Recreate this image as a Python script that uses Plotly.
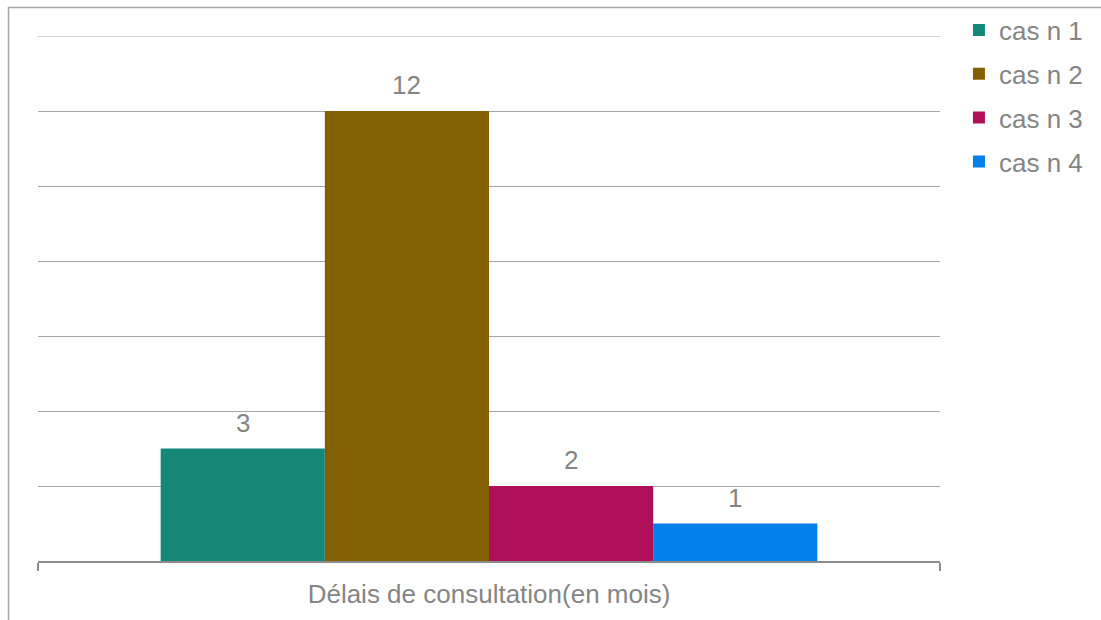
import plotly.graph_objects as go

# Consultation delay per case, in months
category = ["Délais de consultation(en mois)"]
series_names = ["cas n 1", "cas n 2", "cas n 3", "cas n 4"]
series_values = [3, 12, 2, 1]
series_colors = ["#148778", "#825f00", "#b0105a", "#0080e8"]

FONT = "Liberation Sans, Arial, sans-serif"
GREY_TEXT = "#858585"
FS = 26
Y_MAX = 14

fig = go.Figure()
for name, val, col in zip(series_names, series_values, series_colors):
    fig.add_trace(go.Bar(
        x=category, y=[val], name=name, marker_color=col,
        marker_line_width=0, legendgroup=name,
    ))

# Value labels above each bar (positions follow grouped-bar offsets)
bargap = 0.272
n = len(series_values)
group_w = 1 - bargap
bar_w = group_w / n
for i, val in enumerate(series_values):
    xc = -group_w / 2 + bar_w * (i + 0.5)
    fig.add_annotation(
        x=xc, y=val, xref="x", yref="y", text=str(val), showarrow=False,
        yanchor="bottom", yshift=9,
        font=dict(family=FONT, size=FS, color=GREY_TEXT),
    )

# Top gridline at the axis maximum
fig.add_shape(type="line", xref="paper", yref="y", x0=0, x1=1,
              y0=Y_MAX, y1=Y_MAX, line=dict(color="#a6a6a6", width=1),
              layer="below")

# Outer chart frame (right and bottom edges run off the page)
fig.add_shape(type="rect", xref="paper", yref="paper",
              x0=-0.0327, x1=1.3, y0=-0.3, y1=1.0543,
              line=dict(color="#a6a6a6", width=1.5), layer="below")

fig.update_layout(
    width=1101, height=620,
    margin=dict(l=38, r=161, t=36, b=59, autoexpand=False),
    paper_bgcolor="white", plot_bgcolor="white",
    barmode="group", bargap=bargap, bargroupgap=0,
    font=dict(family=FONT, size=FS, color=GREY_TEXT),
    showlegend=True,
    legend=dict(x=1.021, y=1.056, xanchor="left", yanchor="top",
                font=dict(family=FONT, size=FS, color=GREY_TEXT),
                tracegroupgap=7, itemwidth=30,
                bgcolor="rgba(0,0,0,0)"),
    xaxis=dict(
        type="category", range=[-0.5, 0.5], automargin=False,
        showline=True, linecolor="#8c8c8c", linewidth=2,
        ticks="outside", tickson="boundaries", ticklen=8,
        tickcolor="#8c8c8c", tickwidth=1.5, ticklabelstandoff=9,
        tickfont=dict(family=FONT, size=FS, color=GREY_TEXT),
        showgrid=False,
    ),
    yaxis=dict(
        range=[0, Y_MAX], dtick=2, showticklabels=False, automargin=False,
        showgrid=True, gridcolor="#a6a6a6", gridwidth=1,
        zeroline=False, showline=False,
    ),
)

fig.write_html("out.html")
